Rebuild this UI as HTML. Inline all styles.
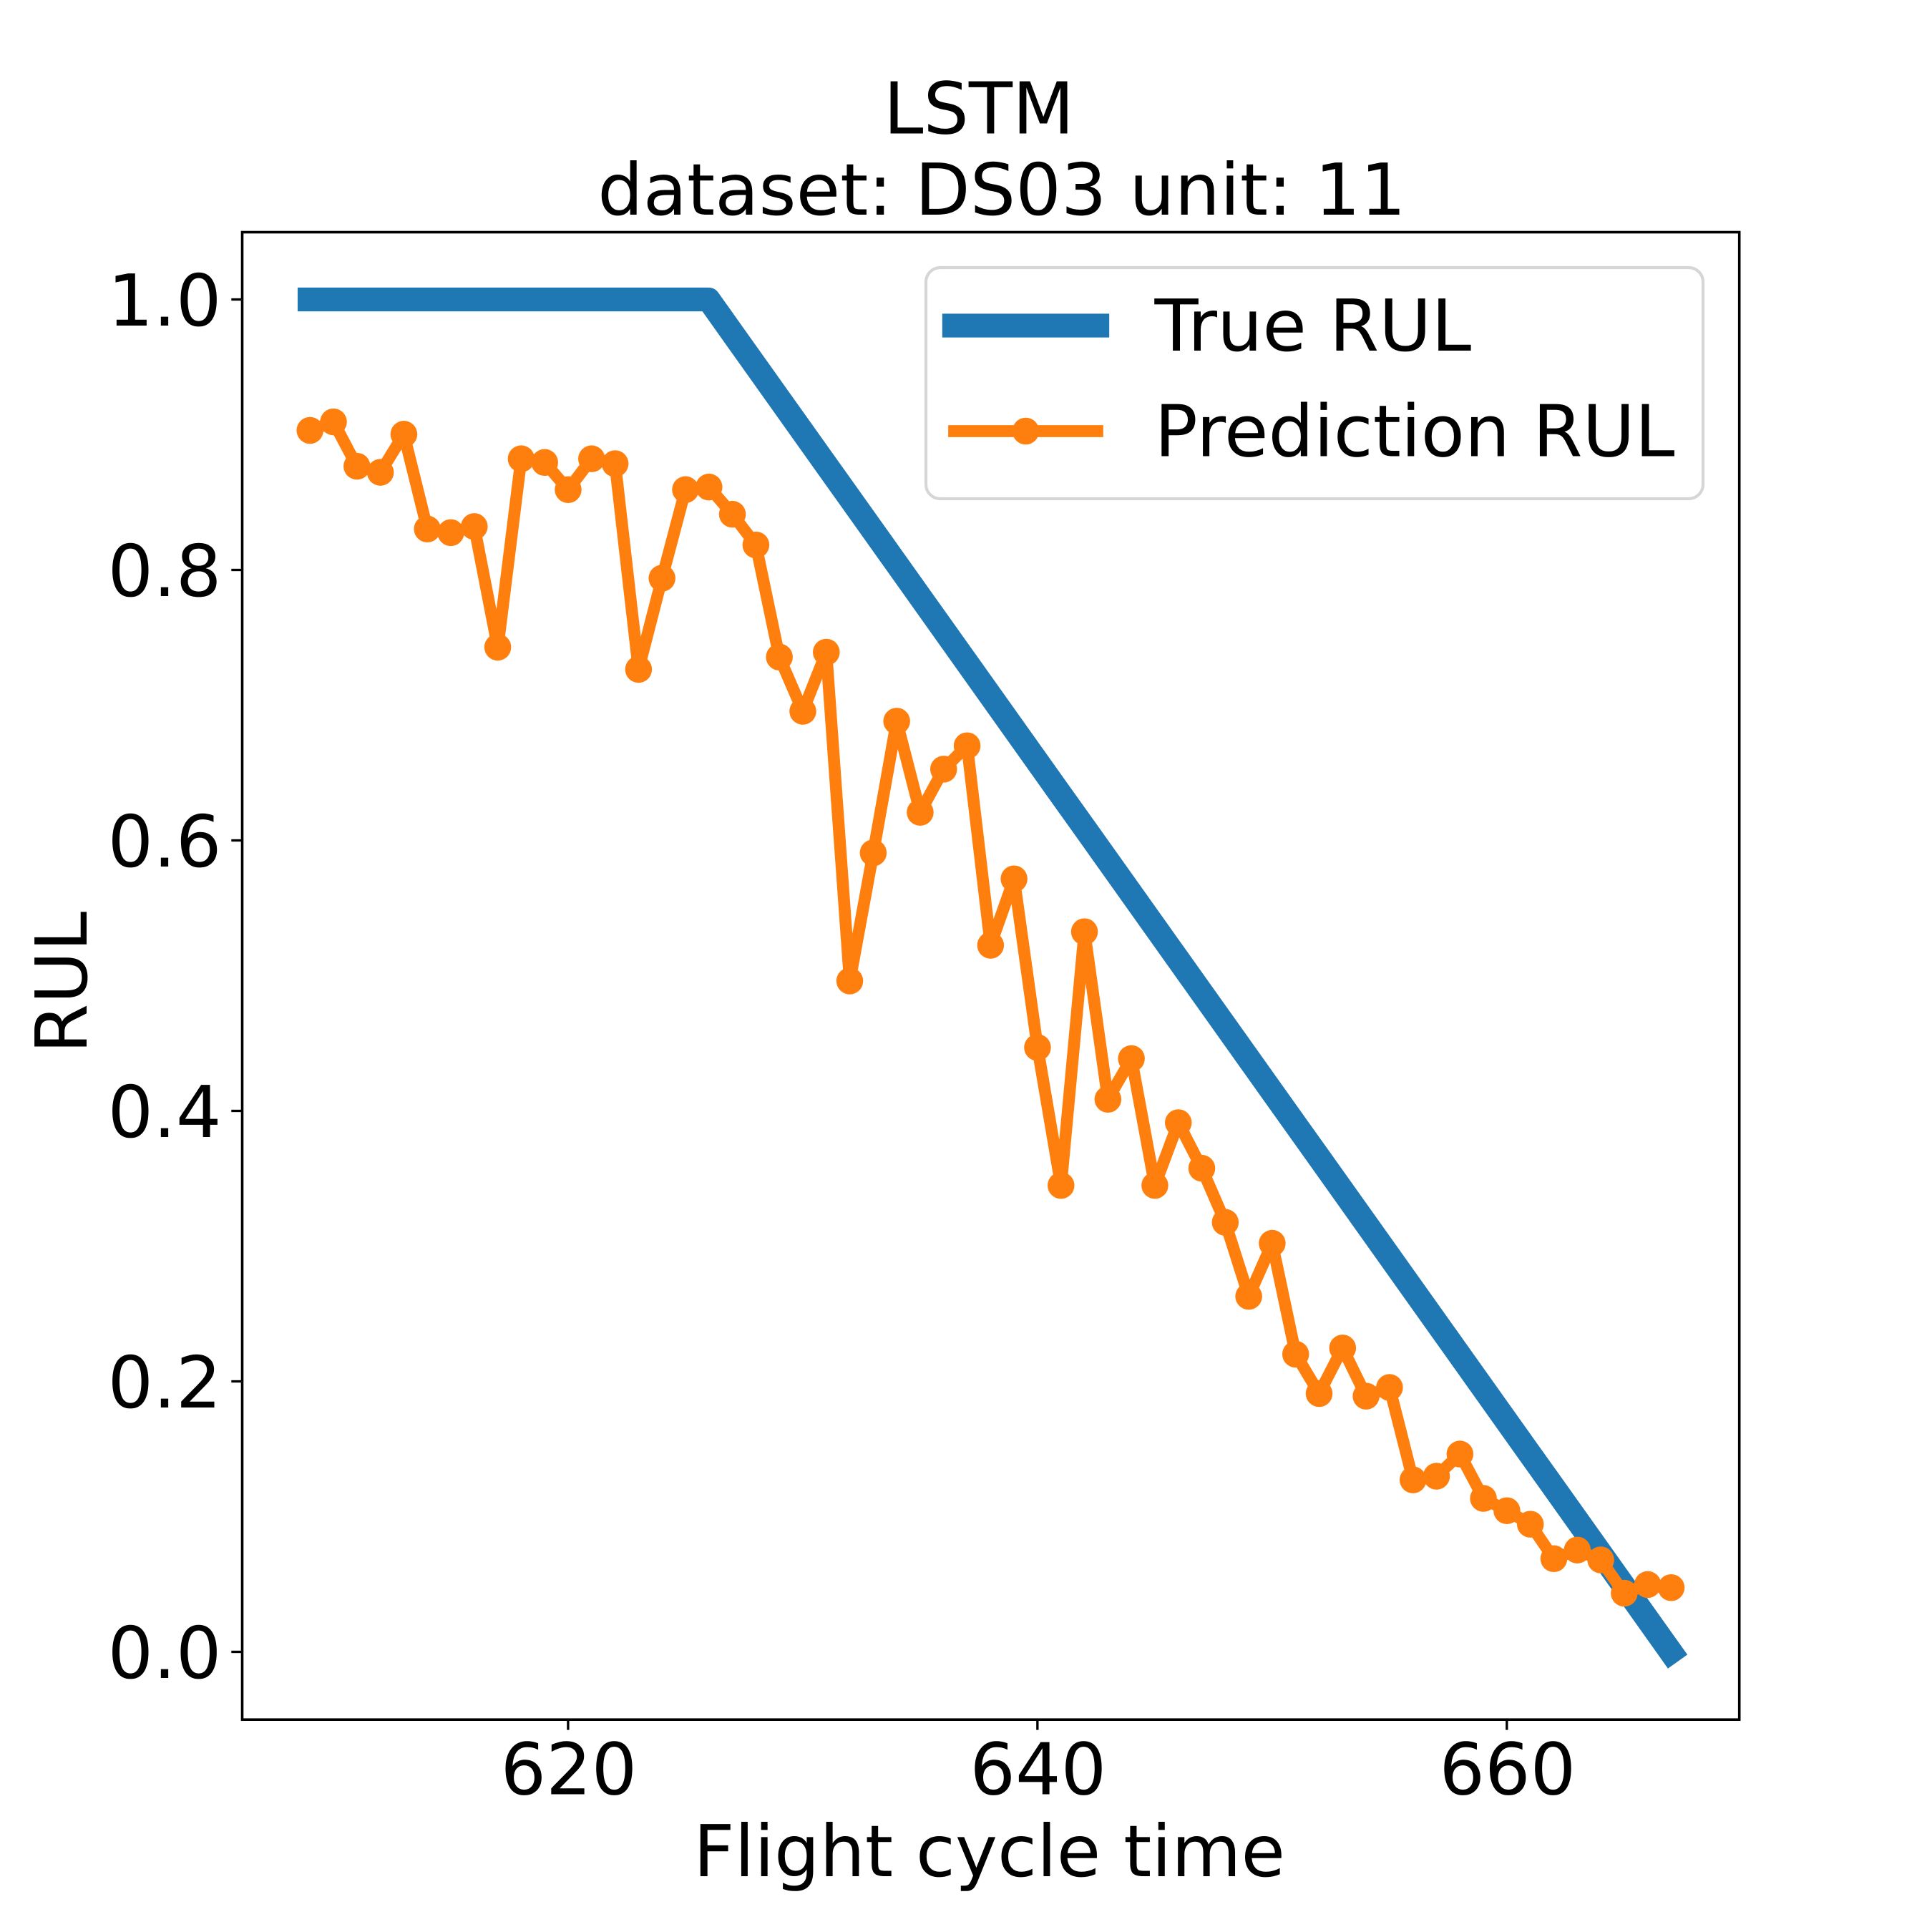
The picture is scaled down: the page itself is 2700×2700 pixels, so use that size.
<!DOCTYPE html>
<html lang="en">
<head>
<meta charset="utf-8">
<title>LSTM RUL chart</title>
<style>
html,body{margin:0;padding:0;background:#fff;}
body{width:2700px;height:2700px;overflow:hidden;}
svg{display:block;}
text{font-family:"DejaVu Sans","Liberation Sans",sans-serif;font-size:100px;fill:#000;text-rendering:geometricPrecision;}
</style>
</head>
<body>
<svg id="chart" xmlns="http://www.w3.org/2000/svg" width="2700" height="2700" viewBox="0 0 2700 2700">
  <rect x="0" y="0" width="2700" height="2700" fill="#ffffff"/>
  <text x="1368" y="186.5" text-anchor="middle">LSTM</text>
  <text x="1400" y="300" text-anchor="middle">dataset: DS03 unit: 11</text>
  <g id="series"></g>
  <g id="ticks"></g>
  <rect x="338.5" y="324.5" width="2092.2" height="2078.7" fill="none" stroke="#000" stroke-width="3.6"/>
  <text x="1382.5" y="2622" text-anchor="middle">Flight cycle time</text>
  <text transform="translate(121 1373) rotate(-90)" text-anchor="middle">RUL</text>
  <g>
    <rect x="1294" y="374" width="1086" height="323" rx="20" ry="20" fill="#ffffff" fill-opacity="0.8" stroke="#d6d6d6" stroke-width="4.17"/>
    <line x1="1333.5" y1="455" x2="1533.5" y2="455" stroke="#1f77b4" stroke-width="33.33" stroke-linecap="square"/>
    <text x="1613.5" y="490">True RUL</text>
    <line x1="1333.5" y1="602.5" x2="1533.5" y2="602.5" stroke="#ff7f0e" stroke-width="16.67" stroke-linecap="square"/>
    <circle cx="1433.5" cy="602.5" r="18.75" fill="#ff7f0e"/>
    <text x="1613.5" y="637.5">Prediction RUL</text>
  </g>
</svg>
<script>
const cycles = [609,610,611,612,613,614,615,616,617,618,619,620,621,622,623,624,625,626,627,628,629,630,631,632,633,634,635,636,637,638,639,640,641,642,643,644,645,646,647,648,649,650,651,652,653,654,655,656,657,658,659,660,661,662,663,664,665,666,667];
const trueRul = [1,1,1,1,1,1,1,1,1,1,1,1,1,1,1,1,1,1,0.9756,0.9512,0.9268,0.9024,0.878,0.8537,0.8293,0.8049,0.7805,0.7561,0.7317,0.7073,0.6829,0.6585,0.6341,0.6098,0.5854,0.561,0.5366,0.5122,0.4878,0.4634,0.439,0.4146,0.3902,0.3659,0.3415,0.3171,0.2927,0.2683,0.2439,0.2195,0.1951,0.1707,0.1463,0.122,0.0976,0.0732,0.0488,0.0244,0];
const predictionRul = [0.9035,0.9098,0.877,0.8725,0.9007,0.8306,0.8279,0.8324,0.7432,0.8825,0.8798,0.8597,0.8825,0.8789,0.7268,0.7942,0.8597,0.8616,0.8415,0.8188,0.7359,0.6958,0.7395,0.4964,0.5911,0.6885,0.6211,0.653,0.6703,0.5228,0.5719,0.4472,0.3452,0.5328,0.4089,0.439,0.3452,0.3916,0.3579,0.3179,0.2632,0.3024,0.2204,0.1913,0.225,0.1894,0.1958,0.1275,0.1302,0.1466,0.1138,0.1047,0.0947,0.0692,0.0756,0.0683,0.0437,0.0501,0.0478];
const xTickValues = [620,640,660];
const yTickValues = [0,0.2,0.4,0.6,0.8,1];
const yTickLabels = ['0.0','0.2','0.4','0.6','0.8','1.0'];

const NS = 'http://www.w3.org/2000/svg';
const axLeft = 337.5, axRight = 2430, axTop = 324, axBottom = 2403;
const snap = 0.6;
const allY = trueRul.concat(predictionRul);
const xMinData = Math.min.apply(null, cycles), xMaxData = Math.max.apply(null, cycles);
const yMinData = Math.min.apply(null, allY), yMaxData = Math.max.apply(null, allY);
const xPad = (xMaxData - xMinData) * 0.05, yPad = (yMaxData - yMinData) * 0.05;
function xScale(v) {
  return axLeft + (v - (xMinData - xPad)) / ((xMaxData - xMinData) + 2 * xPad) * (axRight - axLeft);
}
function yScale(v) {
  return axBottom - (v - (yMinData - yPad)) / ((yMaxData - yMinData) + 2 * yPad) * (axBottom - axTop);
}
function make(tag, attrs, parent) {
  const el = document.createElementNS(NS, tag);
  Object.keys(attrs).forEach(function (k) { el.setAttribute(k, attrs[k]); });
  parent.appendChild(el);
  return el;
}
function pathFrom(values, off) {
  return values.map(function (v, i) {
    return (i ? 'L' : 'M') + (xScale(cycles[i]) + off).toFixed(2) + ' ' + (yScale(v) + off).toFixed(2);
  }).join(' ');
}
const series = document.getElementById('series');
const ticks = document.getElementById('ticks');

const trueLine = make('path', {d: pathFrom(trueRul, 0), fill: 'none', stroke: '#1f77b4', 'stroke-width': 33.33, 'stroke-linecap': 'square', 'stroke-linejoin': 'round'}, series);



const predLine = make('path', {d: pathFrom(predictionRul, snap), fill: 'none', stroke: '#ff7f0e', 'stroke-width': 16.67, 'stroke-linecap': 'square', 'stroke-linejoin': 'round'}, series);



predictionRul.forEach(function (v, i) {
  const pt = make('circle', {cx: (xScale(cycles[i]) + snap).toFixed(2), cy: (yScale(v) + snap).toFixed(2), r: 18.75, fill: '#ff7f0e'}, series);
  
  
});

xTickValues.forEach(function (v) {
  const x = xScale(v) + 0.5;
  const mark = make('line', {x1: x, y1: axBottom, x2: x, y2: axBottom + 14.6, stroke: '#000', 'stroke-width': 3.33}, ticks);
  
  
  const label = make('text', {x: x + 1, y: axBottom + 104.5, 'text-anchor': 'middle'}, ticks);
  
  
  label.textContent = String(v);
});

yTickValues.forEach(function (v, i) {
  const y = yScale(v);
  const mark = make('line', {x1: axLeft - 14.2, y1: y, x2: axLeft + 1, y2: y, stroke: '#000', 'stroke-width': 3.33}, ticks);
  
  
  const label = make('text', {x: axLeft - 28, y: y + 36.5, 'text-anchor': 'end'}, ticks);
  
  
  label.textContent = yTickLabels[i];
});
</script>
</body>
</html>
